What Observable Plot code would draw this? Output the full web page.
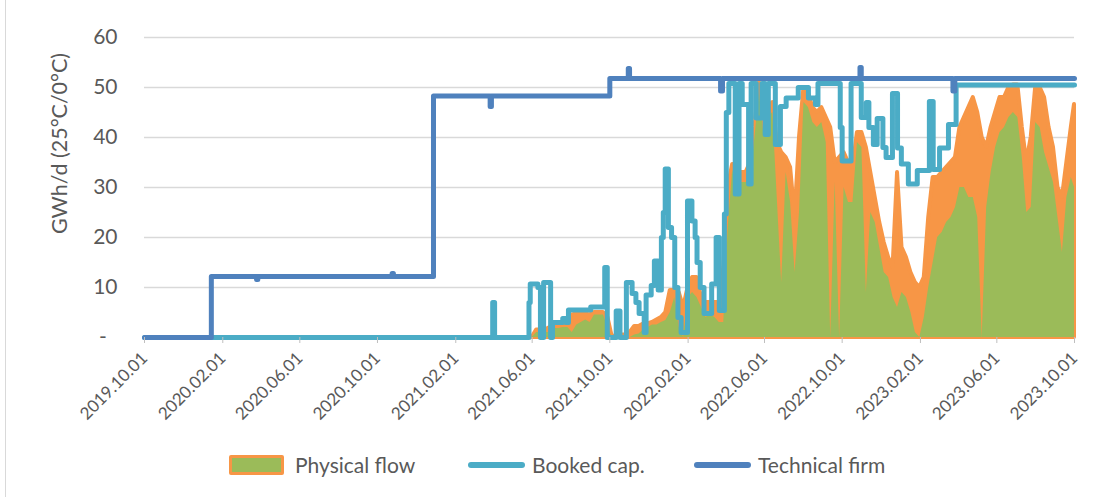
<!DOCTYPE html>
<html><head><meta charset="utf-8">
<script src="https://cdn.jsdelivr.net/npm/d3@7"></script>
<script src="https://cdn.jsdelivr.net/npm/@observablehq/plot@0.6"></script>
<style>
html,body{margin:0;padding:0;background:#fff;}
#wrap{position:relative;width:1111px;height:497px;overflow:hidden;font-family:Lato,sans-serif;color:#595959;background:#fff;}
#chart{position:absolute;left:0;top:0;}
#edge{position:absolute;left:5px;top:0;width:0;height:497px;border-left:1px solid #d9d9d9;z-index:2;}
#legend{position:absolute;left:0;top:450px;width:1111px;height:30px;}
.key{position:absolute;box-sizing:border-box;}
.lab{position:absolute;top:0;height:30px;line-height:30px;font-size:21px;white-space:nowrap;}
</style></head><body>
<div id="wrap"><div id="chart"></div><div id="legend"></div><div id="edge"></div></div>
<script>
// ---- data ----
const xTickLabels = ["2019-10-01","2020-02-01","2020-06-01","2020-10-01","2021-02-01","2021-06-01","2021-10-01","2022-02-01","2022-06-01","2022-10-01","2023-02-01","2023-06-01","2023-10-01"];
const yTicks = [0,10,20,30,40,50,60];
const yTitle = "GWh/d (25°C/0°C)";
const legendLabels = ["Physical flow","Booked cap.","Technical firm"];

const techDates = ["2019-10-01","2020-01-14","2020-03-25","2020-03-27","2020-10-24","2020-10-26","2020-12-28","2021-03-27","2021-03-29","2021-10-01","2021-10-30","2021-11-01","2022-03-24","2022-03-27","2022-10-29","2022-10-31","2023-03-24","2023-03-27","2023-10-01"];
const techValues = [0,12.2,11.6,12.2,12.8,12.2,48.3,46.2,48.3,51.8,53.8,51.8,49.3,51.8,54,51.8,49.3,51.8,51.8];

const bookedDates = ["2019-10-01","2021-03-31","2021-04-03","2021-05-27","2021-05-29","2021-06-10","2021-06-14","2021-06-19","2021-06-30","2021-07-03","2021-07-19","2021-07-24","2021-07-28","2021-09-01","2021-09-23","2021-09-27","2021-10-11","2021-10-17","2021-10-27","2021-11-05","2021-11-11","2021-11-16","2021-11-24","2021-11-27","2021-12-05","2021-12-10","2021-12-16","2021-12-21","2021-12-24","2021-12-27","2022-01-01","2022-01-06","2022-01-11","2022-01-16","2022-01-21","2022-01-26","2022-01-31","2022-02-07","2022-02-12","2022-02-15","2022-02-20","2022-02-26","2022-03-10","2022-03-17","2022-03-22","2022-03-30","2022-04-02","2022-04-06","2022-04-16","2022-04-22","2022-04-27","2022-05-07","2022-05-11","2022-05-19","2022-05-28","2022-06-02","2022-06-07","2022-06-18","2022-06-26","2022-07-05","2022-07-24","2022-08-09","2022-08-20","2022-08-24","2022-09-28","2022-10-01","2022-10-15","2022-10-31","2022-11-08","2022-11-12","2022-11-19","2022-11-25","2022-12-04","2022-12-09","2022-12-19","2022-12-27","2023-01-02","2023-01-13","2023-01-27","2023-02-15","2023-02-21","2023-03-03","2023-03-17","2023-03-29","2023-10-01"];
const bookedValues = [0,7,0,7,10.7,10,0,11,0,3,3.8,3,5.5,6.1,14,0,5.3,0,11,8.8,7,4.8,1,8.5,10.4,15.3,9.5,20,25,33.7,22,20,10,4,1,1,27.3,23.3,20,15,10,4.8,10.7,20,5.4,24.7,45,50.8,28.7,50.8,46.6,30.7,50.8,43.9,50.8,40.6,50.8,38.6,46.2,47.9,50,47.9,46.6,50.8,42,35.3,50.8,44,47,42,38.6,43.8,38,36,48.8,37.9,34.7,30.7,33.4,47.2,33.6,37.9,42.6,50.5,50.5];

const flowDates = ["2021-06-01","2021-06-08","2021-06-15","2021-06-22","2021-06-29","2021-07-06","2021-07-13","2021-07-20","2021-07-27","2021-08-03","2021-08-10","2021-08-17","2021-08-24","2021-08-31","2021-09-07","2021-09-14","2021-09-21","2021-09-28","2021-10-05","2021-10-12","2021-10-19","2021-10-26","2021-11-02","2021-11-09","2021-11-16","2021-11-23","2021-11-30","2021-12-07","2021-12-14","2021-12-21","2021-12-28","2022-01-04","2022-01-11","2022-01-18","2022-01-25","2022-02-01","2022-02-08","2022-02-15","2022-02-22","2022-03-01","2022-03-08","2022-03-15","2022-03-22","2022-03-29","2022-04-05","2022-04-12","2022-04-19","2022-04-26","2022-05-03","2022-05-10","2022-05-17","2022-05-24","2022-05-31","2022-06-07","2022-06-14","2022-06-21","2022-06-28","2022-07-05","2022-07-12","2022-07-19","2022-07-26","2022-08-02","2022-08-09","2022-08-16","2022-08-23","2022-08-30","2022-09-06","2022-09-13","2022-09-20","2022-09-27","2022-10-04","2022-10-11","2022-10-18","2022-10-25","2022-11-01","2022-11-08","2022-11-15","2022-11-22","2022-11-29","2022-12-06","2022-12-13","2022-12-20","2022-12-27","2023-01-03","2023-01-10","2023-01-17","2023-01-24","2023-01-31","2023-02-07","2023-02-14","2023-02-21","2023-02-28","2023-03-07","2023-03-14","2023-03-21","2023-03-28","2023-04-04","2023-04-11","2023-04-18","2023-04-25","2023-05-02","2023-05-09","2023-05-16","2023-05-23","2023-05-30","2023-06-06","2023-06-13","2023-06-20","2023-06-27","2023-07-04","2023-07-11","2023-07-18","2023-07-25","2023-08-01","2023-08-08","2023-08-15","2023-08-22","2023-08-29","2023-09-05","2023-09-12","2023-09-19","2023-09-26","2023-10-01"];
// weekly range of the daily physical flow: upper and lower envelope
const flowHigh = [0,1.5,1.5,1.5,2,2,2.2,2.5,3,4.5,
  4.7,4.7,4.7,4.5,5,5,5,4,0,0.5,
  0.5,0.5,1,2.2,2.2,2.7,2.7,3,3.5,4,
  5,9.4,9.4,9,6,10,12,12,8,7,
  7,7,7,14,30,34.6,29,33,33,35,
  42,51,45,46,47,39,37,36,34,24,
  40,50,49,46,45,46,44,42,35,36,
  37,35,34,41,41,38,33,28,23,19,
  16,14,33,18,16,13,11,10,12,24,
  32,32,33,34,35,36,42,44,46,48,
  45,40,38,42,45,48,48,50,50.5,50.5,
  42,35,40,50,50,48,42,38,30,28,
  35,42,46.6];
const flowLow = [0,1,1,1,1,1.8,1.8,2,2,1,
  2.5,3,3.5,3,4.5,4.5,4.5,2,0,0,
  0,0,0,0.5,0.7,1.5,2,2.5,2.5,3,
  3.4,5,8,2,0,8,9,8,6,4,
  4.5,4,3,3,22,33.5,28,31,31,32,
  40,49,40.6,44,45,28,11,33,27,13,
  25,47,46,43,42,43,39,0,31,0,
  30,27,27,39,38,9,25,23,18,13,
  12,8,6,9,8,5,1,0,4,10,
  15,20,21,23,24,26,30,30,28,28,
  24,0,26,33,38,41,42,44,45,44,
  36,25,26,43,42,37,34,31,24,17,
  28,32,30];

// ---- build ----
const parse = d3.utcParse("%Y-%m-%d");
const flow = flowDates.map((d, i) => ({date: parse(d), high: flowHigh[i], low: flowLow[i]}));
const booked = bookedDates.map((d, i) => ({date: parse(d), value: bookedValues[i]}));
const tech = techDates.map((d, i) => ({date: parse(d), value: techValues[i]}));
const xTicks = xTickLabels.map(parse);

const C_FLOW_FILL = "#9bbb59", C_FLOW_LINE = "#f79646", C_BOOKED = "#4bacc6", C_TECH = "#4f81bd";

const chart = Plot.plot({
  width: 1111, height: 445,
  marginLeft: 144, marginRight: 37, marginTop: 37, marginBottom: 108,
  style: {fontFamily: "Lato, sans-serif", fontSize: "21px", color: "#595959", background: "#fff", overflow: "visible"},
  x: {type: "utc", domain: [xTicks[0], xTicks[xTicks.length - 1]]},
  y: {domain: [0, 60]},
  marks: [
    Plot.ruleY(yTicks, {stroke: "#d9d9d9", strokeWidth: 1.4}),
    Plot.areaY(flow, {x: "date", y: "high", fill: C_FLOW_LINE, stroke: C_FLOW_LINE, strokeWidth: 4, strokeLinejoin: "round"}),
    Plot.areaY(flow, {x: "date", y: "low", fill: C_FLOW_FILL}),
    Plot.line(booked, {x: "date", y: "value", curve: "step-after", stroke: C_BOOKED, strokeWidth: 5, strokeLinejoin: "round", strokeLinecap: "round"}),
    Plot.line(tech, {x: "date", y: "value", curve: "step-after", stroke: C_TECH, strokeWidth: 5, strokeLinejoin: "round", strokeLinecap: "round"}),
    Plot.axisY({ticks: yTicks, tickSize: 0, tickPadding: 27, label: null, fontSize: 21, fill: "#595959",
      tickFormat: d => d === 0 ? "-\u00a0\u00a0" : String(d)}),
    Plot.axisX({ticks: xTicks, tickFormat: d3.utcFormat("%Y.%m.%d"), tickRotate: -45, tickSize: 6, tickPadding: 12,
      stroke: "#bfbfbf", fill: "#595959", fontSize: 17, label: null}),
    Plot.text([yTitle], {frameAnchor: "left", textAnchor: "middle", rotate: -90, dx: -84, dy: -44, fontSize: 21.5, fill: "#595959"})
  ]
});
document.getElementById("chart").appendChild(chart);

// ---- legend ----
const legend = document.getElementById("legend");
const keyX = [229, 468, 694], labX = [295, 532, 758];
const keyStyles = [
  `left:${keyX[0]}px;top:5px;width:55px;height:20px;background:${C_FLOW_FILL};border:3px solid ${C_FLOW_LINE};border-radius:2px;`,
  `left:${keyX[1]}px;top:12px;width:57px;height:6px;background:${C_BOOKED};border-radius:3px;`,
  `left:${keyX[2]}px;top:12px;width:57px;height:6px;background:${C_TECH};border-radius:3px;`
];
legendLabels.forEach((t, i) => {
  const k = document.createElement("div"); k.className = "key"; k.style.cssText = keyStyles[i]; legend.appendChild(k);
  const l = document.createElement("div"); l.className = "lab"; l.style.left = labX[i] + "px"; l.textContent = t; legend.appendChild(l);
});
</script>
</body></html>
